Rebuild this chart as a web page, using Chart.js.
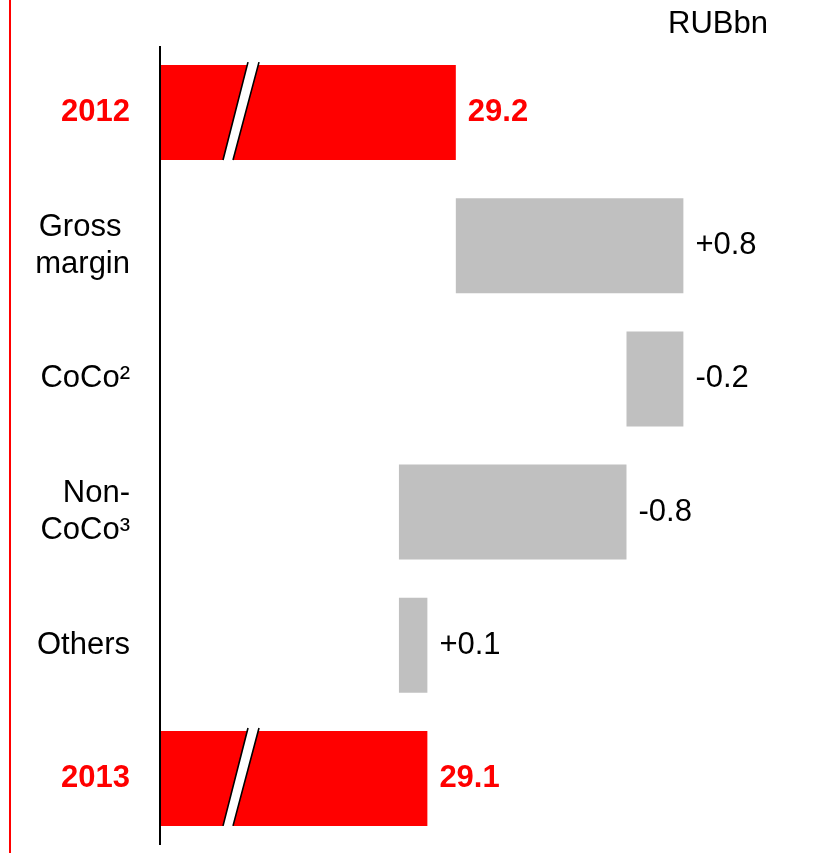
<!DOCTYPE html>
<html>
<head>
<meta charset="utf-8">
<script src="https://cdn.jsdelivr.net/npm/chart.js@4.4.1/dist/chart.umd.min.js"></script>
<style>
  html, body { margin: 0; padding: 0; background: #fff; }
  #wrap { width: 814px; height: 853px; position: relative; }
</style>
</head>
<body>
<div id="wrap"><canvas id="c" width="814" height="853"></canvas></div>
<script>
// Operating result bridge, RUBbn
const categories = ['2012', ['Gross ', 'margin'], 'CoCo²', ['Non-', 'CoCo³'], 'Others', '2013'];
const startTotal = 29.2;
const endTotal = 29.1;
const changes = [0.8, -0.2, -0.8, 0.1];
const unitLabel = 'RUBbn';

// Broken value axis: the total bars start at this value
const axisStart = 28.16;
const axisEnd = 30.41;

const RED = '#FF0000';
const GREY = '#C0C0C0';
const FONT = '"Liberation Sans", Arial, sans-serif';
const FONT_SIZE = 31;

// Floating bar ranges for the waterfall
const ranges = [[axisStart, startTotal]];
let running = startTotal;
changes.forEach(d => {
  ranges.push([running, running + d]);
  running += d;
});
ranges.push([axisStart, endTotal]);

const lastIdx = categories.length - 1;
const isTotal = i => i === 0 || i === lastIdx;

const valueText = [startTotal.toFixed(1)]
  .concat(changes.map(d => (d > 0 ? '+' : '') + d.toFixed(1)))
  .concat([endTotal.toFixed(1)]);

// Red rule down the left edge
const pageRule = {
  id: 'pageRule',
  beforeDraw(chart) {
    const ctx = chart.ctx;
    ctx.save();
    ctx.fillStyle = RED;
    ctx.fillRect(9, 0, 2, chart.height);
    ctx.restore();
  }
};

// Unit caption at the top right
const unitCaption = {
  id: 'unitCaption',
  afterDraw(chart) {
    const ctx = chart.ctx;
    ctx.save();
    ctx.font = `${FONT_SIZE}px ${FONT}`;
    ctx.fillStyle = '#000';
    ctx.textAlign = 'right';
    ctx.textBaseline = 'alphabetic';
    ctx.fillText(unitLabel, 768, 33);
    ctx.restore();
  }
};

// Axis-break marks across the total bars
const breakMarks = {
  id: 'breakMarks',
  afterDatasetsDraw(chart) {
    const meta = chart.getDatasetMeta(0);
    const ctx = chart.ctx;
    [0, lastIdx].forEach(i => {
      const bar = meta.data[i];
      const top = bar.y - bar.height / 2 - 3;
      const bottom = bar.y + bar.height / 2;
      const x0 = Math.min(bar.x, bar.base);
      const bl = x0 + 63, br = x0 + 73;
      const tl = x0 + 88, tr = x0 + 99;
      ctx.save();
      ctx.fillStyle = '#fff';
      ctx.beginPath();
      ctx.moveTo(bl, bottom);
      ctx.lineTo(br, bottom);
      ctx.lineTo(tr, top);
      ctx.lineTo(tl, top);
      ctx.closePath();
      ctx.fill();
      ctx.strokeStyle = '#000';
      ctx.lineWidth = 1.6;
      ctx.beginPath();
      ctx.moveTo(bl, bottom);
      ctx.lineTo(tl, top);
      ctx.moveTo(br, bottom);
      ctx.lineTo(tr, top);
      ctx.stroke();
      ctx.restore();
    });
  }
};

// Value axis line drawn over the bars, plus value labels at each bar end
const valueLabels = {
  id: 'valueLabels',
  afterDatasetsDraw(chart) {
    const meta = chart.getDatasetMeta(0);
    const ctx = chart.ctx;
    const yScale = chart.scales.y;
    ctx.save();
    ctx.strokeStyle = '#000';
    ctx.lineWidth = 2;
    ctx.beginPath();
    ctx.moveTo(yScale.right, yScale.top);
    ctx.lineTo(yScale.right, yScale.bottom);
    ctx.stroke();

    ctx.textAlign = 'left';
    ctx.textBaseline = 'middle';
    meta.data.forEach((bar, i) => {
      const total = isTotal(i);
      ctx.font = `${total ? 'bold ' : ''}${FONT_SIZE}px ${FONT}`;
      ctx.fillStyle = total ? RED : '#000';
      const right = Math.max(bar.x, bar.base);
      ctx.fillText(valueText[i], right + 12, bar.y);
    });
    ctx.restore();
  }
};

new Chart(document.getElementById('c'), {
  type: 'bar',
  data: {
    labels: categories,
    datasets: [{
      data: ranges,
      backgroundColor: categories.map((_, i) => isTotal(i) ? RED : GREY),
      borderWidth: 0,
      categoryPercentage: 1,
      barPercentage: 0.713
    }]
  },
  options: {
    indexAxis: 'y',
    responsive: false,
    animation: false,
    devicePixelRatio: 1,
    layout: { padding: { top: 46, bottom: 8, left: 0, right: 14 } },
    plugins: {
      legend: { display: false },
      tooltip: { enabled: false },
      title: { display: false }
    },
    scales: {
      x: { display: false, min: axisStart, max: axisEnd },
      y: {
        grid: { display: false, drawTicks: false },
        border: { display: false },
        ticks: {
          autoSkip: false,
          padding: 30,
          color: ctx => isTotal(ctx.index) ? RED : '#000',
          font: ctx => ({
            family: FONT,
            size: FONT_SIZE,
            weight: isTotal(ctx.index) ? 'bold' : 'normal',
            lineHeight: 1.2
          })
        },
        afterFit(scale) {
          scale.width = 160;
          scale.paddingTop = 0;
          scale.paddingBottom = 0;
        }
      }
    }
  },
  plugins: [pageRule, breakMarks, valueLabels, unitCaption]
});
</script>
</body>
</html>
